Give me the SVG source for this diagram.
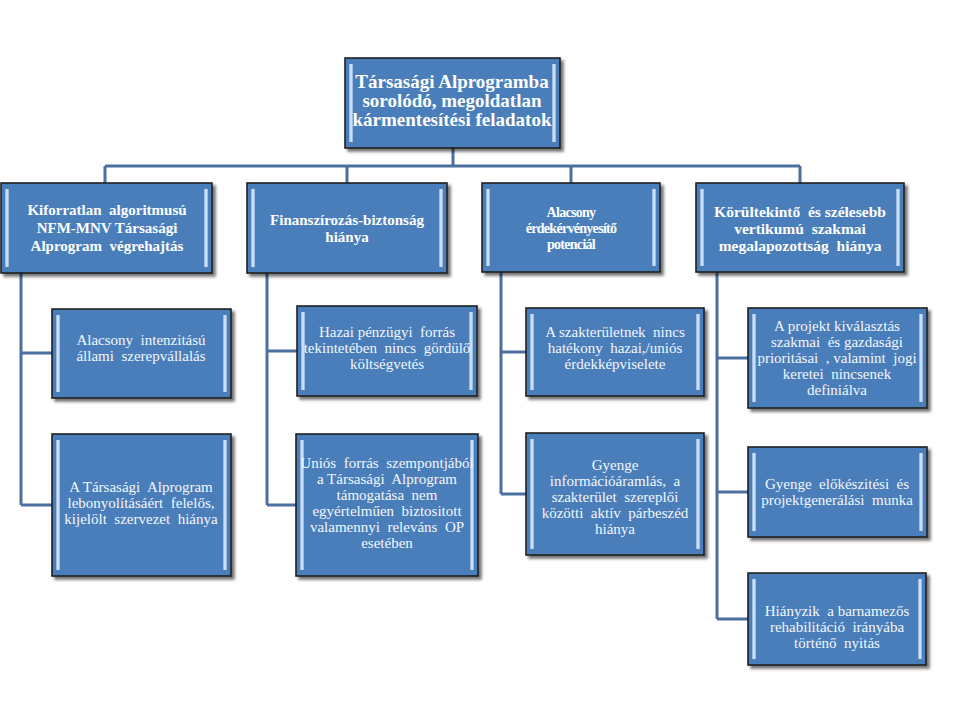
<svg xmlns="http://www.w3.org/2000/svg" width="960" height="720" viewBox="0 0 960 720">
<defs>
<filter id="sh" x="-10%" y="-10%" width="130%" height="130%">
<feGaussianBlur in="SourceAlpha" stdDeviation="1.8"/>
<feOffset dx="3" dy="3" result="b"/>
<feComponentTransfer><feFuncA type="linear" slope="0.55"/></feComponentTransfer>
<feMerge><feMergeNode/><feMergeNode in="SourceGraphic"/></feMerge>
</filter>
<linearGradient id="bar" x1="0" y1="0" x2="1" y2="0">
<stop offset="0" stop-color="#86acdc"/>
<stop offset="0.5" stop-color="#e2eefa"/>
<stop offset="1" stop-color="#86acdc"/>
</linearGradient>
</defs>
<style>
.box{fill:#4a7ebb;stroke:#1e1e1e;stroke-width:1.6;filter:url(#sh)}
.bar{fill:url(#bar)}
text{font-family:'Liberation Serif','Times New Roman',serif;white-space:pre;text-anchor:middle}
.tb{font-weight:bold;fill:#ffffff}
.tr{fill:#f4f6fa;font-size:15px}
.c{fill:none;stroke:#4b6f9f;stroke-width:3}
</style>
<rect x="0" y="0" width="960" height="720" fill="#ffffff"/>
<g id="connectors">
<path class="c" d="M453,148 V166 M105,166 H800 M105,166 V183 M347,166 V183 M571,166 V183 M800,166 V183"/>
<path class="c" d="M21,273 V505 M21,353 H52 M21,505 H52"/>
<path class="c" d="M267,273 V505 M267,351 H297 M267,505 H296"/>
<path class="c" d="M501,272 V494 M501,352 H526 M501,494 H526"/>
<path class="c" d="M717,272 V619 M717,358 H748 M717,492 H748 M717,619 H748"/>
</g>
<g id="n0">
<rect class="box" x="345" y="58" width="215" height="90"/>
<rect class="bar" x="349" y="64" width="4" height="78"/><rect class="bar" x="552" y="64" width="4" height="78"/>
<text class="tb" font-family="Liberation Serif, serif" font-size="19"><tspan x="452" y="88">Társasági Alprogramba</tspan><tspan x="452" y="107">sorolódó, megoldatlan</tspan><tspan x="452" y="126">kármentesítési feladatok</tspan></text>
</g>
<g id="n1">
<rect class="box" x="1" y="183" width="211" height="90"/>
<rect class="bar" x="5" y="189" width="4" height="78"/><rect class="bar" x="204" y="189" width="4" height="78"/>
<text class="tb" font-family="Liberation Serif, serif" font-size="15"><tspan x="107" y="215">Kiforratlan  algoritmusú</tspan><tspan x="107" y="233">NFM-MNV Társasági</tspan><tspan x="107" y="251">Alprogram  végrehajtás</tspan></text>
</g>
<g id="n2">
<rect class="box" x="247" y="183" width="200" height="90"/>
<rect class="bar" x="251" y="189" width="4" height="78"/><rect class="bar" x="439" y="189" width="4" height="78"/>
<text class="tb" font-family="Liberation Serif, serif" font-size="15"><tspan x="347" y="225">Finanszírozás-biztonság</tspan><tspan x="347" y="242">hiánya</tspan></text>
</g>
<g id="n3">
<rect class="box" x="482" y="183" width="178" height="89"/>
<rect class="bar" x="486" y="189" width="4" height="77"/><rect class="bar" x="652" y="189" width="4" height="77"/>
<text class="tb" font-family="Liberation Serif, serif" font-size="14" letter-spacing="-0.7"><tspan x="571" y="217">Alacsony</tspan><tspan x="571" y="233">érdekérvényesítő</tspan><tspan x="571" y="249">potenciál</tspan></text>
</g>
<g id="n4">
<rect class="box" x="696" y="183" width="208" height="89"/>
<rect class="bar" x="700" y="189" width="4" height="77"/><rect class="bar" x="896" y="189" width="4" height="77"/>
<text class="tb" font-family="Liberation Serif, serif" font-size="15.5"><tspan x="800" y="217">Körültekintő  és szélesebb</tspan><tspan x="800" y="234">vertikumú  szakmai</tspan><tspan x="800" y="251">megalapozottság  hiánya</tspan></text>
</g>
<g id="n11">
<rect class="box" x="52" y="309" width="179" height="89"/>
<rect class="bar" x="56" y="315" width="4" height="77"/><rect class="bar" x="223" y="315" width="4" height="77"/>
<text class="tr" font-family="Liberation Serif, serif"><tspan x="141" y="345">Alacsony  intenzitású</tspan><tspan x="141" y="361">állami  szerepvállalás</tspan></text>
</g>
<g id="n12">
<rect class="box" x="52" y="434" width="179" height="142"/>
<rect class="bar" x="56" y="440" width="4" height="130"/><rect class="bar" x="223" y="440" width="4" height="130"/>
<text class="tr" font-family="Liberation Serif, serif"><tspan x="141" y="492">A Társasági  Alprogram</tspan><tspan x="141" y="508">lebonyolításáért  felelős,</tspan><tspan x="141" y="524">kijelölt  szervezet  hiánya</tspan></text>
</g>
<g id="n21">
<rect class="box" x="297" y="306" width="180" height="90"/>
<rect class="bar" x="301" y="312" width="4" height="78"/><rect class="bar" x="469" y="312" width="4" height="78"/>
<text class="tr" font-family="Liberation Serif, serif"><tspan x="387" y="337">Hazai pénzügyi  forrás</tspan><tspan x="387" y="353">tekintetében  nincs  gördülő</tspan><tspan x="387" y="369">költségvetés</tspan></text>
</g>
<g id="n22">
<rect class="box" x="296" y="434" width="182" height="142"/>
<rect class="bar" x="300" y="440" width="4" height="130"/><rect class="bar" x="470" y="440" width="4" height="130"/>
<text class="tr" font-family="Liberation Serif, serif"><tspan x="387" y="468">Uniós  forrás  szempontjából</tspan><tspan x="387" y="484">a Társasági  Alprogram</tspan><tspan x="387" y="500">támogatása  nem</tspan><tspan x="387" y="516">egyértelműen  biztositott</tspan><tspan x="387" y="532">valamennyi  releváns  OP</tspan><tspan x="387" y="548">esetében</tspan></text>
</g>
<g id="n31">
<rect class="box" x="526" y="308" width="178" height="88"/>
<rect class="bar" x="530" y="314" width="4" height="76"/><rect class="bar" x="696" y="314" width="4" height="76"/>
<text class="tr" font-family="Liberation Serif, serif"><tspan x="615" y="337">A szakterületnek  nincs</tspan><tspan x="615" y="353">hatékony  hazai,/uniós</tspan><tspan x="615" y="369">érdekképviselete</tspan></text>
</g>
<g id="n32">
<rect class="box" x="526" y="433" width="178" height="122"/>
<rect class="bar" x="530" y="439" width="4" height="110"/><rect class="bar" x="696" y="439" width="4" height="110"/>
<text class="tr" font-family="Liberation Serif, serif"><tspan x="615" y="470">Gyenge</tspan><tspan x="615" y="486">információáramlás,  a</tspan><tspan x="615" y="502">szakterület  szereplői</tspan><tspan x="615" y="518">közötti  aktív  párbeszéd</tspan><tspan x="615" y="534">hiánya</tspan></text>
</g>
<g id="n41">
<rect class="box" x="748" y="308" width="179" height="100"/>
<rect class="bar" x="752" y="314" width="4" height="88"/><rect class="bar" x="919" y="314" width="4" height="88"/>
<text class="tr" font-family="Liberation Serif, serif"><tspan x="837" y="331">A projekt kiválasztás</tspan><tspan x="837" y="347">szakmai  és gazdasági</tspan><tspan x="837" y="363">prioritásai  , valamint  jogi</tspan><tspan x="837" y="379">keretei  nincsenek</tspan><tspan x="837" y="395">definiálva</tspan></text>
</g>
<g id="n42">
<rect class="box" x="748" y="447" width="179" height="90"/>
<rect class="bar" x="752" y="453" width="4" height="78"/><rect class="bar" x="919" y="453" width="4" height="78"/>
<text class="tr" font-family="Liberation Serif, serif"><tspan x="837" y="489">Gyenge  előkészitési  és</tspan><tspan x="837" y="505">projektgenerálási  munka</tspan></text>
</g>
<g id="n43">
<rect class="box" x="748" y="573" width="178" height="92"/>
<rect class="bar" x="752" y="579" width="4" height="80"/><rect class="bar" x="918" y="579" width="4" height="80"/>
<text class="tr" font-family="Liberation Serif, serif"><tspan x="837" y="616">Hiányzik  a barnamezős</tspan><tspan x="837" y="632">rehabilitáció  irányába</tspan><tspan x="837" y="648">történő  nyitás</tspan></text>
</g>
</svg>
